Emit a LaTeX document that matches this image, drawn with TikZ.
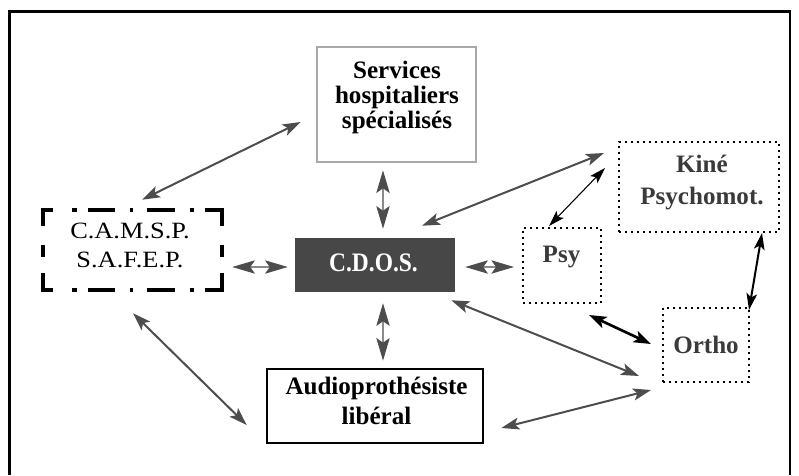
\documentclass[tikz,border=0pt]{standalone}
\usepackage{fontspec}
\setmainfont{Liberation Serif}
\newfontfamily\camspfont[FakeStretch=1.13]{Liberation Serif}
\newfontfamily\cdosfont[FakeStretch=0.88]{Liberation Serif Bold}
\usetikzlibrary{arrows.meta,calc,fit}
\definecolor{arr}{HTML}{4D4D4D}
\definecolor{shaft}{HTML}{8A8A8A}
\definecolor{lgray}{HTML}{A8A8A8}
\definecolor{cdosfill}{HTML}{474747}
\definecolor{dtext}{HTML}{3A3A3A}
\tikzset{
  bx/.style={rectangle, inner sep=0pt},
  txt/.style={inner sep=0pt, align=center},
  btxt/.style={txt, font=\fontsize{18.8pt}{#1}\selectfont\bfseries},
  dotbox/.style={bx, draw=black, line width=1.5pt, dash pattern=on 1.5pt off 3pt},
  cbord/.style={draw=black, line width=3pt, line cap=butt},
  gtip/.tip={Stealth[length=13.5pt,width=9pt,inset=3pt,color=arr]},
  ttip/.tip={Stealth[length=17pt,width=10pt,inset=3.5pt,color=arr]},
  garr/.style={draw=arr, line width=1.5pt, gtip-gtip},
  tarr/.style={draw=shaft, line width=0.9pt, ttip-ttip},
  barrA/.style={draw=black, line width=0.8pt, {Stealth[length=12pt,width=7.5pt,inset=2.5pt]}-{Stealth[length=12pt,width=7.5pt,inset=2.5pt]}},
  barrB/.style={draw=black, line width=1.5pt, {Stealth[length=12.5pt,width=8pt,inset=3pt]}-{Stealth[length=12.5pt,width=8pt,inset=3pt]}},
  barrC/.style={draw=black, line width=2pt, {Stealth[length=13pt,width=9pt,inset=3pt]}-{Stealth[length=13pt,width=9pt,inset=3pt]}},
}
\begin{document}
\begin{tikzpicture}[x=0.75pt,y=-0.75pt]
\useasboundingbox (0,0) rectangle (799,475);
% outer frame (open at the bottom)
\draw[line width=1.9pt, line cap=butt] (9.5,475) -- (9.5,11.5) -- (790,11.5) -- (790,475);

% boxes
\node[bx, draw=lgray, line width=2pt, fit={(317,47) (476,162)}] (serv) {};
\node[bx, fit={(43,210) (222,290)}] (camsp) {};
\node[bx, fill=cdosfill, fit={(295,238) (455,292)}] (cdos) {};
\node[dotbox, fit={(523,228) (601,303)}] (psy) {};
\node[dotbox, fit={(619,142) (779,232)}] (kine) {};
\node[dotbox, fit={(663,308) (749,382)}] (ortho) {};
\node[bx, draw=black, line width=2pt, fit={(267,369) (483,443)}] (audio) {};

% texts
\node[btxt=18.75pt] (servt) at (397,97.4) {Services\\hospitaliers\\spécialisés};
\node[txt, font=\fontsize{17.5pt}{21.5pt}\selectfont\camspfont] (camspt) at (130,245.5) {C.A.M.S.P.\\S.A.F.E.P.};
\node[txt, text=white, font=\fontsize{20pt}{24pt}\selectfont\cdosfont] (cdost) at (373.5,262.5) {C.D.O.S.};
\node[btxt=20pt, text=dtext] (psyt) at (561.5,257.4) {Psy};
\node[btxt=24pt, text=dtext] (kinet) at (702,182) {Kiné\\Psychomot.};
\node[btxt=20pt, text=dtext] (orthot) at (706,344.5) {Ortho};
\node[btxt=22pt] (audiot) at (376.5,401) {Audioprothésiste\\libéral};

% dash-dot border of C.A.M.S.P.
\draw[cbord, dash pattern=on 9pt off 14.25pt on 3.75pt off 8.25pt on 20.25pt off 11.25pt on 2.25pt off 10.5pt on 21pt off 11.25pt on 3pt off 8.25pt on 14.25pt off 50pt]
  ($(camsp.north west)+(-2,0)$) -- ($(camsp.north east)+(2,0)$);
\draw[cbord, dash pattern=on 9pt off 14.25pt on 3.75pt off 8.25pt on 20.25pt off 11.25pt on 2.25pt off 10.5pt on 21pt off 11.25pt on 3pt off 8.25pt on 14.25pt off 50pt]
  ($(camsp.south west)+(-2,0)$) -- ($(camsp.south east)+(2,0)$);
\draw[cbord, dash pattern=on 13.5pt off 14.25pt on 9pt off 12pt on 14.25pt off 50pt]
  ($(camsp.north west)+(0,-2)$) -- ($(camsp.south west)+(0,2)$);
\draw[cbord, dash pattern=on 13.5pt off 14.25pt on 9pt off 12pt on 14.25pt off 50pt]
  ($(camsp.north east)+(0,-2)$) -- ($(camsp.south east)+(0,2)$);

% connectors
\draw[garr] ($(camsp.north)+(9.5,-10)$) -- ($(serv.west)+(-15,17.5)$);
\draw[tarr] ($(serv.south)+(-13.5,7)$) -- ($(cdos.north)+(8,-9)$);
\draw[tarr] ($(camsp.east)+(10,17)$) -- ($(cdos.west)+(-7,2)$);
\draw[tarr] ($(cdos.east)+(10,2)$) -- ($(psy.west)+(-8,1.5)$);
\draw[tarr] ($(cdos.south)+(8,11)$) -- ($(audio.north)+(8,-7)$);
\draw[garr] ($(camsp.south)+(0.5,23)$) -- ($(audio.west)+(-19,19)$);
\draw[garr] ($(cdos.north)+(47,-12)$) -- ($(kine.west)+(-14,-34)$);
\draw[barrA] ($(psy.north)+(-13,-1)$) -- ($(kine.west)+(-13,-19)$);
\draw[barrB] ($(kine.south east)+(-18,0)$) -- ($(ortho.north east)+(-1,3)$);
\draw[barrC] ($(psy.south east)+(-13,11)$) -- ($(ortho.west)+(-11,-1)$);
\draw[garr] ($(cdos.south east)+(-4,8)$) -- ($(ortho.south west)+(-23,-7)$);
\draw[garr] ($(audio.east)+(17,22)$) -- ($(ortho.south west)+(-11,7)$);
\end{tikzpicture}
\end{document}
